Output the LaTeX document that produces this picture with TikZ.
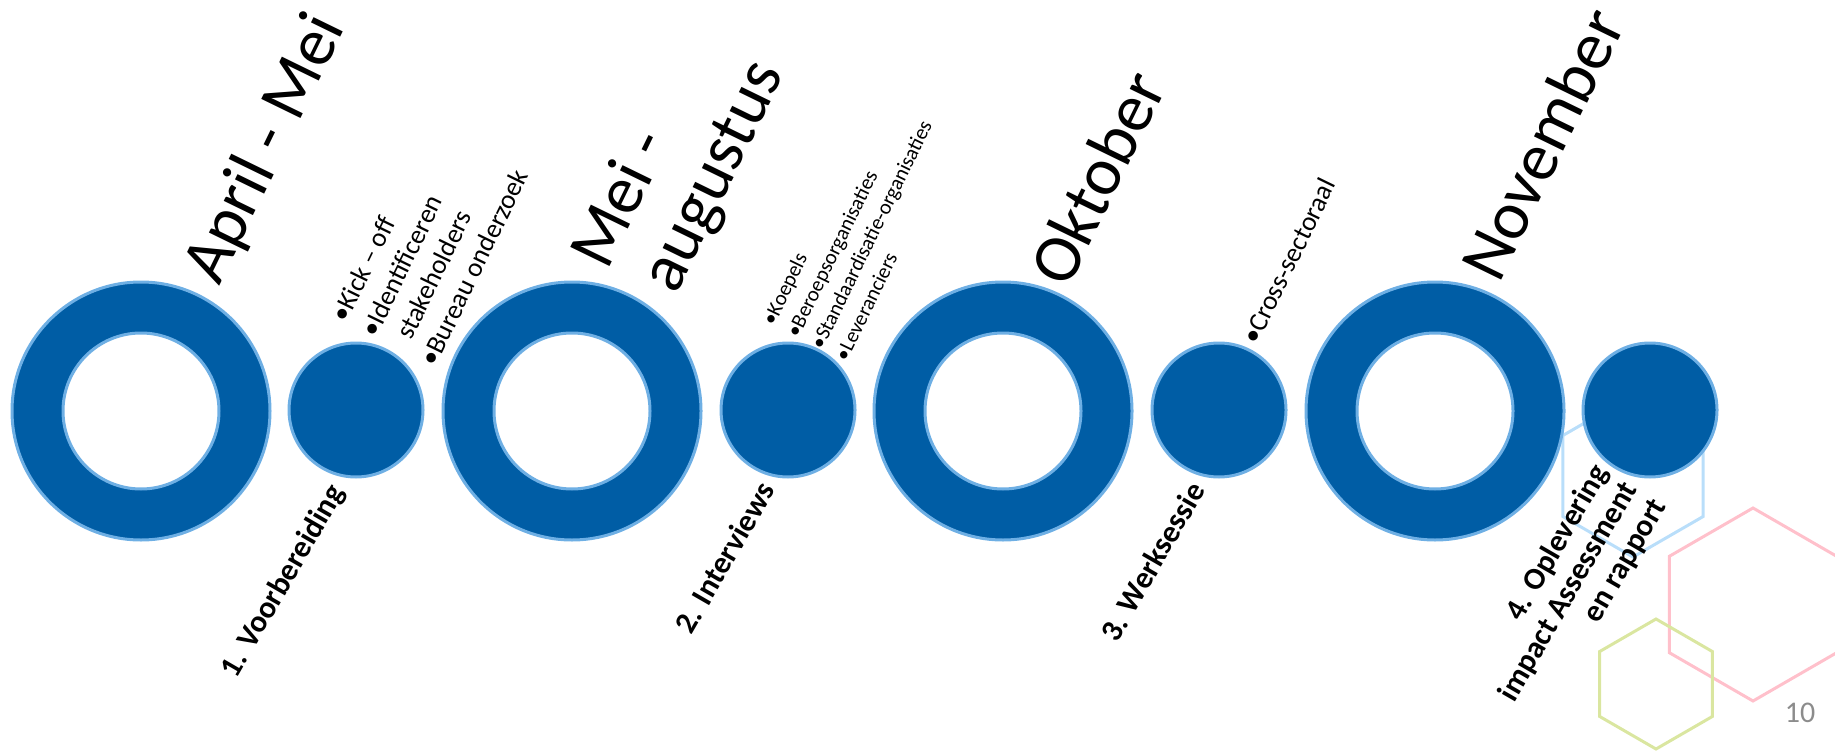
\documentclass[tikz,border=0pt]{standalone}
\usepackage{fontspec}
\setmainfont{Carlito}
\usetikzlibrary{shapes.geometric}
\definecolor{ringblue}{RGB}{0,93,165}
\definecolor{edgeblue}{RGB}{110,175,228}
\definecolor{hexblue}{RGB}{185,222,250}
\definecolor{hexpink}{RGB}{255,192,203}
\definecolor{hexgreen}{RGB}{218,230,160}
\definecolor{pagegray}{RGB}{140,140,140}
\tikzset{
  outerring/.style={circle, fill=ringblue, draw=edgeblue, line width=3pt, inner sep=0pt, minimum size=258pt},
  innerring/.style={circle, fill=white, draw=edgeblue, line width=3pt, inner sep=0pt, minimum size=156pt},
  dotc/.style={circle, fill=ringblue, draw=edgeblue, line width=3pt, inner sep=0pt, minimum size=134pt},
  hexa/.style={regular polygon, regular polygon sides=6, rotate=30, inner sep=0pt, line width=3pt},
  titletext/.style={font=\fontsize{68}{72}\selectfont, rotate=64, anchor=base west, inner sep=0pt},
  bulletA/.style={font=\fontsize{27}{32}\selectfont, rotate=64, anchor=base west, inner sep=0pt},
  bulletB/.style={font=\fontsize{21}{26}\selectfont, rotate=64, anchor=base west, inner sep=0pt},
  phaselabel/.style={font=\fontsize{31}{35}\selectfont\bfseries, rotate=60, anchor=base east, inner sep=0pt},
}
\begin{document}
\begin{tikzpicture}[x=1pt,y=1pt]
\useasboundingbox (0,0) rectangle (1835,-751);
% decorative hexagons
\node[hexa, draw=hexpink, minimum size=193pt] (hp) at (1753,-604.5) {};
\node[hexa, draw=hexgreen, minimum size=130pt] (hg) at (1656,-684) {};
\node[hexa, draw=hexblue, minimum size=162pt] (hb) at (1633,-476) {};
% rings
\node[outerring] (r1) at (141,-411) {};
\node[innerring] (r1i) at (141,-411) {};
\node[outerring] (r2) at (572,-411) {};
\node[innerring] (r2i) at (572,-411) {};
\node[outerring] (r3) at (1003,-411) {};
\node[innerring] (r3i) at (1003,-411) {};
\node[outerring] (r4) at (1435,-411) {};
\node[innerring] (r4i) at (1435,-411) {};
% filled circles
\node[dotc] (c1) at (356,-410) {};
\node[dotc] (c2) at (788,-410) {};
\node[dotc] (c3) at (1219,-410) {};
\node[dotc] (c4) at (1650,-410) {};
% titles
\node[titletext] (t1) at (219,-287) {April - Mei};
\node[titletext] (t2a) at (607,-272) {Mei -};
\node[titletext] (t2b) at (676,-296) {augustus};
\node[titletext] (t3) at (1068,-290) {Oktober};
\node[titletext] (t4) at (1499,-285) {November};
% bullet group 1
\begin{scope}[shift={(341,-317)}, rotate=64]
\node[bulletA] (b1a) at (-4,-8) {•Kick – off};
\node[bulletA] (b1b) at (-4,-41) {•Identificeren};
\node[bulletA] (b1c) at (-4,-74) {\phantom{•}stakeholders};
\node[bulletA] (b1d) at (-4,-107) {•Bureau onderzoek};
\end{scope}
% bullet group 2
\begin{scope}[shift={(769,-321)}, rotate=64]
\node[bulletB] (b2a) at (-3,-7) {•Koepels};
\node[bulletB] (b2b) at (-3,-34) {•Beroepsorganisaties};
\node[bulletB] (b2c) at (-3,-61) {•Standaardisatie-organisaties};
\node[bulletB] (b2d) at (-3,-88) {•Leveranciers};
\end{scope}
% bullet group 3
\begin{scope}[shift={(1252,-339)}, rotate=64]
\node[bulletA] (b3a) at (-4,-8) {•Cross-sectoraal};
\end{scope}
% phase labels
\node[phaselabel] (l1) at (345,-492) {1. Voorbereiding};
\node[phaselabel] (l2) at (776,-490) {2. Interviews};
\node[phaselabel] (l3) at (1206,-490) {3. Werksessie};
\node[phaselabel] (l4a) at (1609,-472) {4. Oplevering};
\node[phaselabel] (l4b) at (1638,-489) {impact Assessment};
\node[phaselabel] (l4c) at (1667,-506) {en rapport};
% page number
\node[font=\fontsize{30}{34}\selectfont, text=pagegray, inner sep=0pt] (pg) at (1800,-713) {10};
\end{tikzpicture}
\end{document}
